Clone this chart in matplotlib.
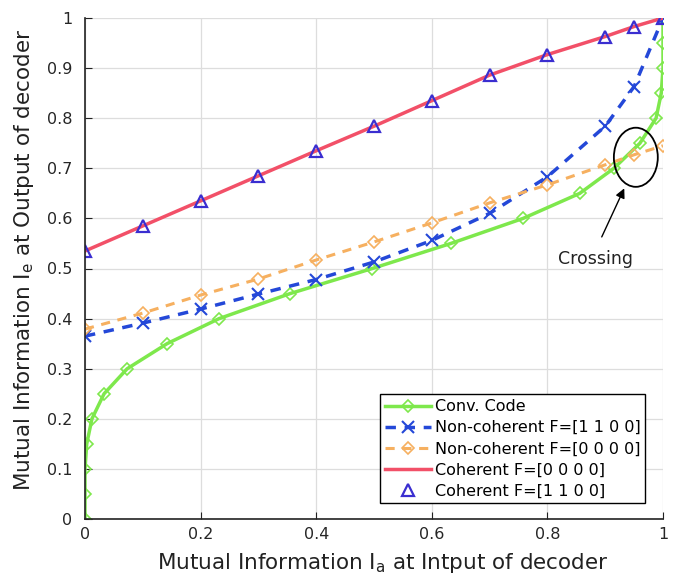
import matplotlib
matplotlib.use("Agg")
import matplotlib.pyplot as plt
from matplotlib.patches import Ellipse
import numpy as np

# Conv. Code
conv_x = [0.0, 0.0, 0.0, 0.003, 0.012, 0.033, 0.073, 0.142, 0.232, 0.355, 0.497,
          0.633, 0.758, 0.856, 0.915, 0.96, 0.988, 0.997, 1.0, 1.0, 1.0]
conv_y = [0.0, 0.05, 0.10, 0.15, 0.20, 0.25, 0.30, 0.35, 0.40, 0.45, 0.50,
          0.55, 0.60, 0.65, 0.70, 0.75, 0.80, 0.85, 0.90, 0.95, 1.0]

# Non-coherent F=[1 1 0 0]
nc1_x = [0.0, 0.1, 0.2, 0.3, 0.4, 0.5, 0.6, 0.7, 0.8, 0.9, 0.95, 1.0]
nc1_y = [0.365, 0.391, 0.419, 0.449, 0.478, 0.513, 0.556, 0.610, 0.683, 0.784, 0.863, 1.0]

# Non-coherent F=[0 0 0 0]
nc0_x = [0.0, 0.1, 0.2, 0.3, 0.4, 0.5, 0.6, 0.7, 0.8, 0.9, 0.95, 1.0]
nc0_y = [0.379, 0.411, 0.447, 0.479, 0.517, 0.553, 0.591, 0.631, 0.667, 0.707, 0.727, 0.745]

# Coherent
coh_x = [0.0, 0.1, 0.2, 0.3, 0.4, 0.5, 0.6, 0.7, 0.8, 0.9, 0.95, 1.0]
coh_y = [0.535, 0.585, 0.635, 0.685, 0.735, 0.784, 0.835, 0.886, 0.927, 0.963, 0.983, 1.0]

fig = plt.figure(figsize=(6.86, 5.78), dpi=100)
ax = fig.add_axes([85/686, 59/578, 578/686, 501/578])

ax.plot(conv_x, conv_y, '-', color='#7ee84c', lw=2.5, marker='D', ms=6.5,
        mfc='none', mec='#7ee84c', mew=1.2, label='Conv. Code')
ax.plot(nc1_x, nc1_y, '--', color='#2448d8', lw=2.5, marker='x', ms=9,
        mew=1.5, label='Non-coherent F=[1 1 0 0]', dashes=(3, 2.5))
ax.plot(nc0_x, nc0_y, '--', color='#f6b060', lw=2.2, marker='D', ms=6.5,
        mfc='none', mew=1.2, label='Non-coherent F=[0 0 0 0]', dashes=(3, 2.5))
ax.plot(coh_x, coh_y, '-', color='#f25068', lw=2.5, label='Coherent F=[0 0 0 0]')
ax.plot(coh_x, coh_y, 'none', marker='^', ms=9, mfc='none', mec='#3a2ed0',
        mew=1.6, label='Coherent F=[1 1 0 0]')

# crossing marker
ax.add_patch(Ellipse((0.953, 0.722), 0.076, 0.118, fill=False, ec='black', lw=1.3, zorder=5))
ax.annotate('', xy=(0.935, 0.665), xytext=(0.892, 0.558),
            arrowprops=dict(arrowstyle='-|>', color='black', lw=1, mutation_scale=14))
ax.text(0.883, 0.519, 'Crossing', ha='center', va='center', fontsize=12.5, color='#222222')

ax.set_xlim(0, 1)
ax.set_ylim(0, 1)
ax.set_xticks([0, 0.2, 0.4, 0.6, 0.8, 1])
ax.set_xticklabels(['0', '0.2', '0.4', '0.6', '0.8', '1'])
ax.set_yticks(np.arange(0, 1.01, 0.1))
ax.set_yticklabels(['0', '0.1', '0.2', '0.3', '0.4', '0.5', '0.6', '0.7', '0.8', '0.9', '1'])
ax.tick_params(direction='in', labelsize=11.5, length=5, color='#222222', labelcolor='#262626')
ax.tick_params(axis='y', pad=9)
ax.tick_params(axis='x', pad=6)
ax.grid(True, color='#dddddd', lw=0.9)
ax.set_axisbelow(True)
for s in ['top', 'right']:
    ax.spines[s].set_visible(False)
for s in ['left', 'bottom']:
    ax.spines[s].set_color('#222222')
    ax.spines[s].set_linewidth(1.2)

ax.set_xlabel('Mutual Information I$_\\mathregular{a}$ at Intput of decoder', fontsize=15.5,
              color='#222222', va='center')
ax.set_ylabel('Mutual Information I$_\\mathregular{e}$ at Output of decoder', fontsize=15.5,
              color='#222222', va='center')
ax.xaxis.set_label_coords(0.516, -0.087)
ax.yaxis.set_label_coords(-0.105, 0.517)

leg = ax.legend(loc='lower right', bbox_to_anchor=(0.975, 0.025), fontsize=11.5,
                fancybox=False, framealpha=1, edgecolor='black',
                handlelength=2.9, handletextpad=0.25, borderpad=0.3, labelspacing=0.38,
                borderaxespad=0.2)
leg.get_frame().set_linewidth(1.0)

fig.savefig('out.png', dpi=100)
